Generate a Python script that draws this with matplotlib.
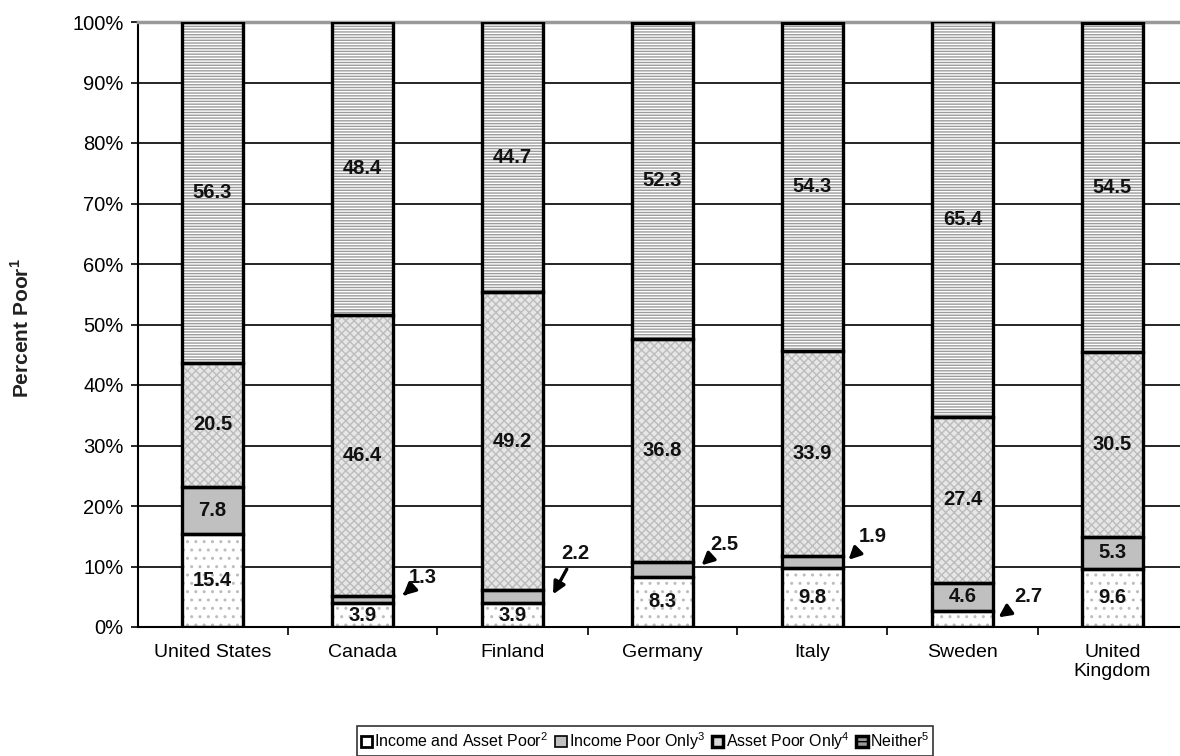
import matplotlib.pyplot as plt
import numpy as np
from matplotlib.patches import Patch

plt.rcParams['font.family'] = ['Liberation Sans', 'DejaVu Sans']
plt.rcParams['mathtext.fontset'] = 'custom'
plt.rcParams['mathtext.rm'] = 'Liberation Sans'
plt.rcParams['mathtext.bf'] = 'Liberation Sans:bold'
plt.rcParams['hatch.linewidth'] = 1.0

countries = ['United States', 'Canada', 'Finland', 'Germany', 'Italy', 'Sweden', 'United\nKingdom']
income_asset = [15.4, 3.9, 3.9, 8.3, 9.8, 2.7, 9.6]
income_only = [7.8, 1.3, 2.2, 2.5, 1.9, 4.6, 5.3]
asset_only = [20.5, 46.4, 49.2, 36.8, 33.9, 27.4, 30.5]
neither = [56.3, 48.4, 44.7, 52.3, 54.3, 65.4, 54.5]

series = [income_asset, income_only, asset_only, neither]
names = ['Income and Asset Poor$^2$', 'Income Poor Only$^3$', 'Asset Poor Only$^4$', 'Neither$^5$']
faces = ['white', '#c0c0c0', '#e6e6e6', 'white']
hatches = ['..', None, 'xxxx', '------']
hatch_cols = ['#bdbdbd', '#c0c0c0', '#bcbcbc', '#9c9c9c']

# small segments get an arrow label: (country index, series index, text pos, arrow tip)
arrow_labels = [
    (1, 1, (1.40, 8.1), (1.27, 5.2)),
    (2, 1, (2.42, 12.2), (2.27, 5.4)),
    (3, 1, (3.41, 13.6), (3.26, 10.2)),
    (4, 1, (4.40, 15.0), (4.24, 11.1)),
    (5, 0, (5.44, 5.1), (5.24, 1.6)),
]

fig = plt.figure(figsize=(11.8, 7.56), dpi=100)
ax = fig.add_axes([137.5 / 1180, 129 / 756, 1050 / 1180, 605 / 756])

x = np.arange(len(countries))
w = 0.41
bottom = np.zeros(len(countries))
for vals, face, hat, hc in zip(series, faces, hatches, hatch_cols):
    vals = np.array(vals)
    ax.bar(x, vals, w, bottom=bottom, color=face, hatch=hat, edgecolor=hc, linewidth=0, zorder=2)
    ax.bar(x, vals, w, bottom=bottom, fill=False, edgecolor='black', linewidth=2.4, zorder=3)
    bottom += vals

arrowed = {(c, s) for c, s, _, _ in arrow_labels}
bottom = np.zeros(len(countries))
for si, vals in enumerate(series):
    for ci, v in enumerate(vals):
        if (ci, si) not in arrowed:
            ax.text(ci, bottom[ci] + v / 2, f'{v:.1f}', ha='center', va='center',
                    fontsize=14.5, fontweight='bold', color='#111111', zorder=4)
    bottom += np.array(vals)

for ci, si, tpos, tip in arrow_labels:
    ax.annotate(f'{series[si][ci]:.1f}', xy=tip, xytext=tpos, ha='center', va='center',
                fontsize=14.5, fontweight='bold', color='#111111', zorder=5,
                arrowprops=dict(arrowstyle='-|>', color='black', lw=2.4, mutation_scale=18,
                                shrinkA=3, shrinkB=0))

ax.set_xlim(-0.5, len(countries) - 0.5)
ax.set_ylim(0, 100)
ax.set_yticks(np.arange(0, 101, 10))
ax.set_yticklabels([f'{t}%' for t in range(0, 101, 10)], fontsize=14.5)
ax.yaxis.grid(True, color='black', linewidth=1.2)
ax.set_axisbelow(True)
ax.set_xticks(x)
ax.set_xticklabels(countries, fontsize=14)
ax.set_xticks(np.arange(0.5, len(countries) - 0.5), minor=True)
ax.tick_params(axis='x', which='major', length=0, pad=12)
ax.tick_params(axis='x', which='minor', length=6, width=1.2)
ax.tick_params(axis='y', length=5, width=1.2, pad=5)
ax.spines['top'].set_color('#999999')
ax.spines['top'].set_linewidth(2.5)
ax.spines['right'].set_visible(False)
ax.spines['left'].set_linewidth(1.5)
ax.spines['bottom'].set_linewidth(1.5)
ax.set_ylabel('Percent Poor$^\\mathbf{1}$', fontsize=15, fontweight='bold', color='#222222')
ax.yaxis.set_label_coords(-0.1, 0.494)

handles = [
    Patch(facecolor='white', edgecolor='black', linewidth=2),
    Patch(facecolor='#c0c0c0', edgecolor='black', linewidth=1.2),
    Patch(facecolor='#d8d8d8', edgecolor='black', linewidth=2.5),
    Patch(facecolor='#999999', edgecolor='black', linewidth=2.5, hatch='---'),
]
leg = fig.legend(handles, names, loc='lower center', bbox_to_anchor=(645 / 1180, 0.0), ncol=4,
                 fontsize=11.5, frameon=True, fancybox=False, edgecolor='black',
                 handlelength=0.7, handleheight=0.7, handletextpad=0.15, columnspacing=0.45,
                 borderpad=0.25, borderaxespad=0)
leg.get_frame().set_linewidth(1.2)

fig.savefig('out.png', dpi=100)
